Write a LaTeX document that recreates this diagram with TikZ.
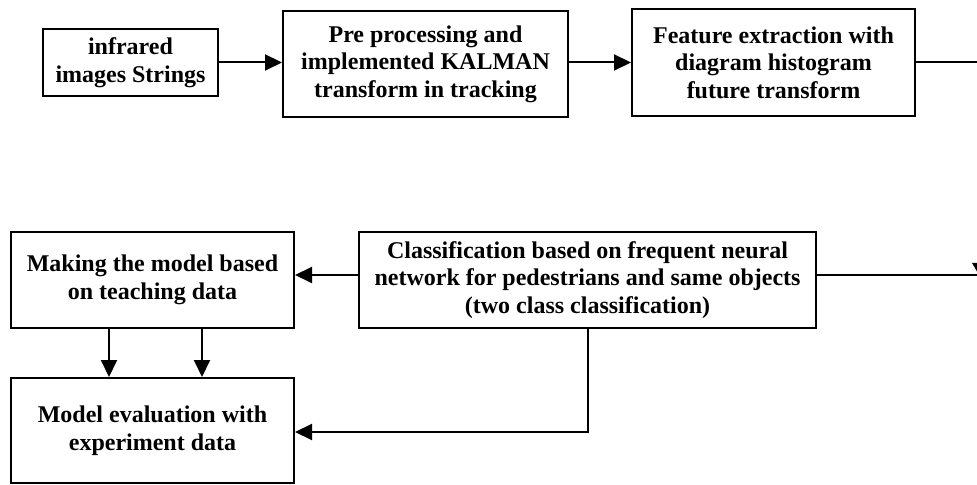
\documentclass[tikz,border=0pt]{standalone}
\usepackage{fontspec}
\setmainfont{Liberation Serif}
\usetikzlibrary{arrows.meta}

\begin{document}
\begin{tikzpicture}[x=0.5pt, y=-0.5pt,
  box/.style={draw, line width=1pt, rectangle, align=center, inner sep=0pt,
    font=\bfseries\fontsize{12}{13.8}\selectfont},
  flow/.style={line width=1pt, -{Triangle[length=8.5pt, width=8pt]}},
  link/.style={line width=1pt}]
  \useasboundingbox (0,0) rectangle (977,485);
  \clip (0,0) rectangle (977,485);

  % top row
  \node[box, minimum width=87.5pt, minimum height=33.5pt] (src) at (130.5,62.5)
    {infrared\\images Strings};
  \node[box, minimum width=142.5pt, minimum height=53pt] (pre) at (425.5,64)
    {Pre processing and\\implemented KALMAN\\transform in tracking};
  \node[box, minimum width=141.5pt, minimum height=53.5pt] (feat) at (773.5,62.5)
    {Feature extraction with\\diagram histogram\\future transform};

  % bottom row
  \node[box, minimum width=141.5pt, minimum height=48pt] (model) at (152.5,280)
    {Making the model based\\on teaching data};
  \node[box, minimum width=141.5pt, minimum height=52.5pt] (eval) at (152.5,430.5)
    {Model evaluation with\\experiment data};
  \node[box, minimum width=228.5pt, minimum height=48pt] (cls) at (587.5,280)
    {Classification based on frequent neural\\network for pedestrians and same objects\\(two class classification)};

  % free ends at the right margin
  \coordinate (featout) at (980,62);
  \coordinate (clsout) at (980,275);

  % connectors
  \draw[flow] (src.east) -- (src.east -| pre.west);
  \draw[flow] (pre.east |- src.east) -- (src.east -| feat.west);
  \draw[link] (feat.east |- featout) -- (featout);
  \draw[link] (cls.east |- clsout) -- (clsout);
  \draw[flow] (cls.west |- clsout) -- (model.east |- clsout);
  \draw[flow] ([xshift=-21.75pt]model.south) -- ([xshift=-21.75pt]model.south |- eval.north);
  \draw[flow] ([xshift=24.75pt]model.south) -- ([xshift=24.75pt]model.south |- eval.north);
  \draw[flow] (cls.south) |- ([yshift=-0.75pt]eval.east);

  % arrowhead cut by the right margin
  \fill (972,263) -- (986,263) -- (979,275) -- cycle;
\end{tikzpicture}
\end{document}
